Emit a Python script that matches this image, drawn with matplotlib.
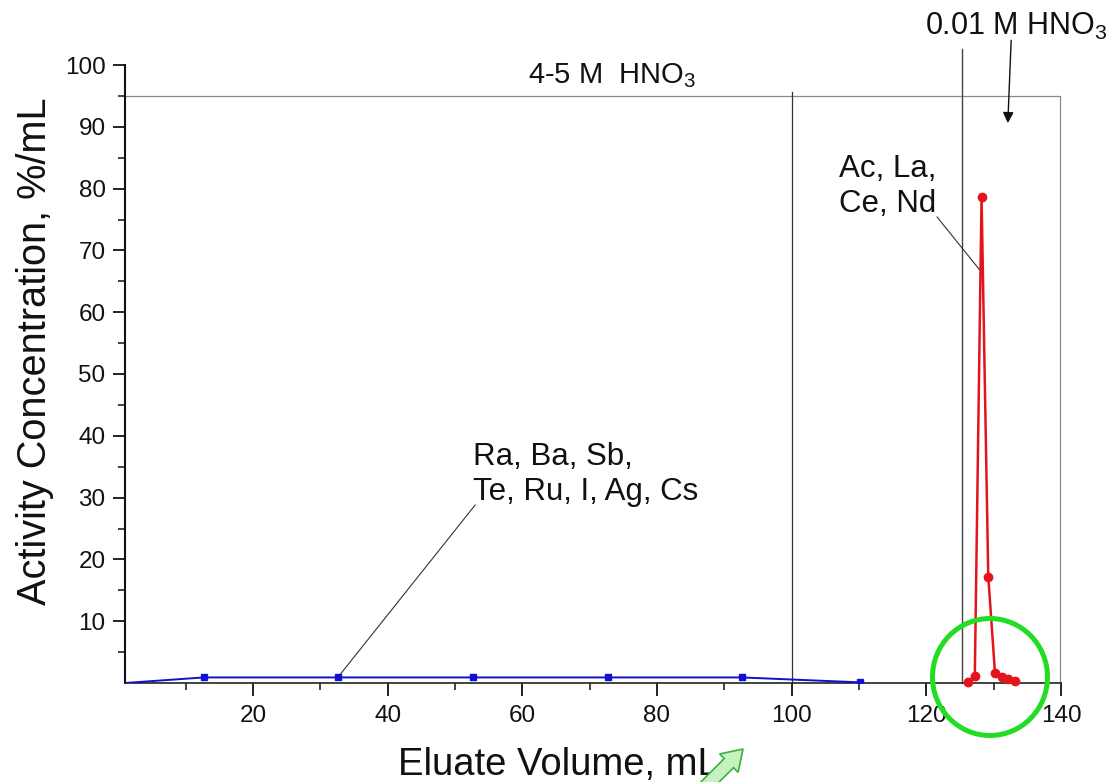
import matplotlib
matplotlib.use("Agg")
import matplotlib.pyplot as plt
from matplotlib.patches import Ellipse, FancyArrow
from matplotlib.ticker import FixedLocator

plt.rcParams['font.family'] = ['Liberation Sans', 'DejaVu Sans']
plt.rcParams['mathtext.fontset'] = 'custom'
plt.rcParams['mathtext.rm'] = 'Liberation Sans'
plt.rcParams['mathtext.it'] = 'Liberation Sans'

# ---- data ----
blue_x = [1.0, 12.7, 32.6, 52.7, 72.7, 92.6, 110.2]
blue_y = [0.0, 0.9, 0.9, 0.9, 0.9, 0.9, 0.1]

red_x = [126.2, 127.2, 128.2, 129.2, 130.2, 131.2, 132.2, 133.2]
red_y = [0.2, 1.2, 78.6, 17.2, 1.6, 0.9, 0.6, 0.3]

x_major = [20, 40, 60, 80, 100, 120, 140]
x_minor = [10, 30, 50, 70, 90, 110, 130]
y_major = [10, 20, 30, 40, 50, 60, 70, 80, 90, 100]
y_minor = [5, 15, 25, 35, 45, 55, 65, 75, 85, 95]

fig = plt.figure(figsize=(11.16, 7.82), dpi=100)
ax = fig.add_axes([125 / 1116, 99 / 782, 936 / 1116, 618 / 782])
ax.set_xlim(1, 140)
ax.set_ylim(0, 100)

for s in ['top', 'right']:
    ax.spines[s].set_visible(False)
ax.spines['left'].set_linewidth(1.5)
ax.spines['bottom'].set_linewidth(1.2)
ax.spines['left'].set_color('#111111')
ax.spines['bottom'].set_color('#222222')

ax.xaxis.set_major_locator(FixedLocator(x_major))
ax.xaxis.set_minor_locator(FixedLocator(x_minor))
ax.yaxis.set_major_locator(FixedLocator(y_major))
ax.yaxis.set_minor_locator(FixedLocator(y_minor))
ax.tick_params(which='major', direction='out', length=9, width=1.3, labelsize=17.5,
               pad=5, colors='#111111')
ax.tick_params(axis='x', which='major', pad=7)
ax.tick_params(which='minor', direction='out', length=5, width=1.1, colors='#111111')

# region box and separators
ax.plot([1, 139.8, 139.8], [95, 95, 0], color='#8a8a8a', lw=0.9, clip_on=False)
ax.plot([100, 100], [0, 95.6], color='#333333', lw=0.9)
ax.plot([125.3, 125.3], [0, 102.6], color='#444444', lw=1.0, clip_on=False)

# series
ax.plot(blue_x, blue_y, color='#1010d0', lw=1.4, marker='s', markersize=5,
        markevery=list(range(1, len(blue_x))), zorder=3)
ax.plot(red_x, red_y, color='#e3141c', lw=1.8, marker='o', markersize=6, zorder=3,
        clip_on=False)

# annotations
ax.text(60.8, 97.1, '4-5 M  HNO$_3$', fontsize=21, ha='left', va='baseline', color='#111111')
ax.text(119.8, 104.85, '0.01 M HNO$_3$', fontsize=22, ha='left', va='baseline',
        color='#111111', clip_on=False)
ax.annotate('', xy=(132.1, 90.6), xytext=(132.6, 104.0),
            arrowprops=dict(arrowstyle='-|>', color='#111111', lw=1.0, mutation_scale=16,
                            shrinkA=0, shrinkB=0),
            annotation_clip=False)

ax.text(52.7, 29.6, 'Ra, Ba, Sb,\nTe, Ru, I, Ag, Cs', fontsize=22.5, ha='left',
        va='baseline', color='#111111', linespacing=1.2)
ax.plot([53.0, 32.6], [28.8, 0.9], color='#333333', lw=0.8)

ax.text(107.0, 76.2, 'Ac, La,\nCe, Nd', fontsize=22.5, ha='left', va='baseline',
        color='#111111', linespacing=1.2)
ax.plot([121.6, 127.96], [75.4, 66.8], color='#333333', lw=0.8)

# axis labels
fig.text(0.5, 7 / 782, 'Eluate Volume, mL', fontsize=27.5, ha='center', va='baseline',
         color='#111111')
fig.text(35 / 1116, 1 - 351 / 782, 'Activity Concentration, %/mL', fontsize=28.6,
         rotation=90, ha='center', va='center', color='#111111')

# highlight overlays (inches from bottom-left)
ell = Ellipse((9.90, 1.05), 1.15, 1.17, transform=fig.dpi_scale_trans, fill=False,
              edgecolor='#22dd22', lw=3.6, zorder=10)
fig.patches.append(ell)
arr = FancyArrow(6.90, -0.20, 0.53, 0.53, width=0.13, head_width=0.26, head_length=0.2,
                 length_includes_head=True, transform=fig.dpi_scale_trans,
                 facecolor='#c6f2bf', edgecolor='#3cb043', lw=1.2, zorder=10)
fig.patches.append(arr)

fig.savefig('out.png', dpi=100)
